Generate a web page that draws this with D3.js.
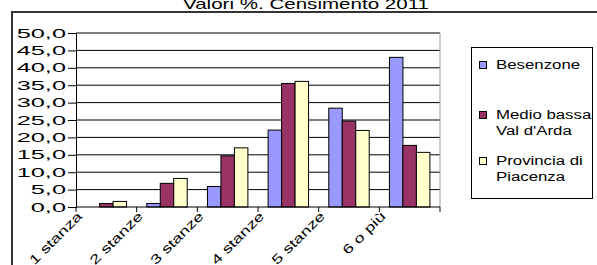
<!DOCTYPE html>
<html>
<head>
<meta charset="utf-8">
<script src="https://cdn.jsdelivr.net/npm/d3@7"></script>
<style>
  body { margin: 0; background: #fff; }
  svg { display: block; font-family: "Liberation Sans", Arial, sans-serif; }
</style>
</head>
<body>
<div id="chart"></div>
<script>
const categories = ['1 stanza', '2 stanze', '3 stanze', '4 stanze', '5 stanze', '6 o più'];
const seriesNames = ['Besenzone', 'Medio bassa Val d\'Arda', 'Provincia di Piacenza'];
const besenzone = [0, 1.0, 5.9, 22.1, 28.4, 43.0];
const medioBassa = [1.0, 6.8, 14.7, 35.5, 24.7, 17.7];
const provincia = [1.6, 8.2, 17.0, 36.1, 22.0, 15.7];
const yTicks = [0, 5, 10, 15, 20, 25, 30, 35, 40, 45, 50];

const colors = ['#9999ff', '#993366', '#ffffcc'];
const width = 597, height = 265;
const margin = {top: 33, right: 157, bottom: 58, left: 76};

const series = [besenzone, medioBassa, provincia];

// the original text is drawn wide, so stretch it
const stretch = (sel, k) => sel.each(function() {
  const len = this.getComputedTextLength();
  d3.select(this).attr('textLength', len * k).attr('lengthAdjust', 'spacingAndGlyphs');
});

const svg = d3.select('#chart').append('svg')
    .attr('width', width)
    .attr('height', height);

// outer chart frame
svg.append('rect')
    .attr('x', 12).attr('y', 12)
    .attr('width', 600).attr('height', 300)
    .attr('fill', 'none')
    .attr('stroke', '#333')
    .attr('stroke-width', 2);

svg.append('text')
    .attr('x', 306).attr('y', 9)
    .attr('text-anchor', 'middle')
    .attr('font-size', 15)
    .text('Valori %. Censimento 2011')
    .call(stretch, 1.37);

const x = d3.scaleBand()
    .domain(d3.range(categories.length))
    .range([margin.left, width - margin.right]);

const x1 = d3.scaleBand()
    .domain(d3.range(series.length))
    .range([0, x.bandwidth()])
    .paddingInner(0)
    .paddingOuter(0.75);

const y = d3.scaleLinear()
    .domain([0, 50])
    .range([height - margin.bottom, margin.top]);

// gridlines
svg.append('g')
  .selectAll('line')
  .data(yTicks.slice(1))
  .join('line')
    .attr('x1', margin.left).attr('x2', width - margin.right)
    .attr('y1', d => y(d)).attr('y2', d => y(d))
    .attr('stroke', '#000')
    .attr('stroke-width', 1);

// plot right border
svg.append('line')
    .attr('x1', width - margin.right).attr('x2', width - margin.right)
    .attr('y1', y(50)).attr('y2', y(0))
    .attr('stroke', '#999');

// bars
svg.append('g')
  .selectAll('g')
  .data(series)
  .join('g')
    .attr('fill', (d, i) => colors[i])
  .selectAll('rect')
  .data((d, si) => d.map((v, ci) => ({v, ci, si})))
  .join('rect')
    .attr('x', d => x(d.ci) + x1(d.si))
    .attr('y', d => y(d.v))
    .attr('width', x1.bandwidth())
    .attr('height', d => y(0) - y(d.v))
    .attr('stroke', '#000')
    .attr('stroke-width', 1);

// y axis
const yAxis = svg.append('g')
    .attr('transform', `translate(${margin.left},0)`)
    .call(d3.axisLeft(y).tickValues(yTicks).tickFormat(d => d3.format('.1f')(d).replace('.', ',')).tickSize(8).tickPadding(2));
yAxis.selectAll('text')
    .attr('font-size', 13)
    .attr('fill', '#000')
    .attr('font-family', '"Liberation Sans", Arial, sans-serif')
    .call(stretch, 1.95);
yAxis.selectAll('line, path').attr('stroke', '#000');

// x axis: ticks at category boundaries
const xAxis = svg.append('g')
    .attr('transform', `translate(0,${y(0)})`);
xAxis.append('line')
    .attr('x1', margin.left).attr('x2', width - margin.right)
    .attr('stroke', '#000');
xAxis.selectAll('.tick')
  .data(d3.range(categories.length + 1))
  .join('line')
    .attr('x1', i => i < categories.length ? x(i) : width - margin.right)
    .attr('x2', i => i < categories.length ? x(i) : width - margin.right)
    .attr('y1', 0).attr('y2', 5)
    .attr('stroke', '#000');
xAxis.selectAll('text')
  .data(categories)
  .join('text')
    .attr('transform', (d, i) => `translate(${x(i) + 7},${10}) rotate(-45) scale(1.4,1)`)
    .attr('text-anchor', 'end')
    .attr('font-size', 13)
    .text(d => d);

// legend
const legend = svg.append('g');
legend.append('rect')
    .attr('x', 471.5).attr('y', 47.5)
    .attr('width', 121).attr('height', 151)
    .attr('fill', '#fff')
    .attr('stroke', '#000');

const legendLines = [['Besenzone'], ['Medio bassa', 'Val d\'Arda'], ['Provincia di', 'Piacenza']];
const legendY = [65, 115, 161];
legendLines.forEach((lines, i) => {
  legend.append('rect')
      .attr('x', 479.5).attr('y', legendY[i] - 3.5)
      .attr('width', 7).attr('height', 7)
      .attr('fill', colors[i])
      .attr('stroke', '#000');
  legend.append('text')
      .attr('x', 496).attr('y', legendY[i] + 4)
      .attr('font-size', 12)
    .selectAll('tspan')
    .data(lines)
    .join('tspan')
      .attr('x', 496)
      .attr('y', (d, j) => legendY[i] + 4 + j * 16)
      .text(d => d)
      .call(stretch, 1.4);
});
</script>
</body>
</html>
